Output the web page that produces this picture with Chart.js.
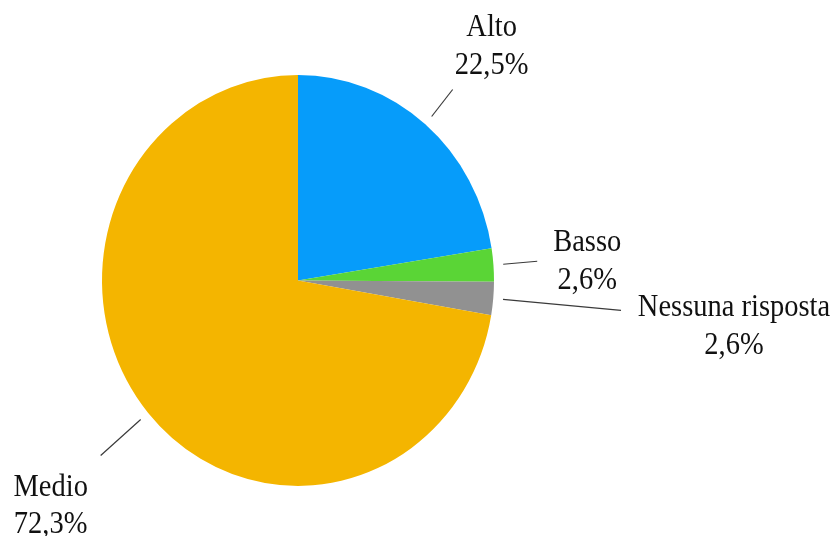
<!DOCTYPE html>
<html>
<head>
<meta charset="utf-8">
<script src="https://cdn.jsdelivr.net/npm/chart.js@4/dist/chart.umd.min.js"></script>
<style>
  html, body { margin: 0; padding: 0; background: #ffffff; }
  #wrap { width: 840px; height: 536px; position: relative; }
</style>
</head>
<body>
<div id="wrap"><canvas id="c" width="840" height="536"></canvas></div>
<script>
// Risposte per categoria (percentuali)
const categories = ['Alto', 'Basso', 'Nessuna risposta', 'Medio'];
const shares = [22.5, 2.6, 2.6, 72.3];
const valueLabels = ['22,5%', '2,6%', '2,6%', '72,3%'];
const sliceColors = ['#069cfa', '#5ad536', '#919191', '#f4b500'];

// Vertical stretch applied to the pie (drawn slightly taller than wide)
const STRETCH_Y = 1.048;
// Text glyphs are drawn a little taller than the font's natural proportions
const TEXT_STRETCH_Y = 1.13;

// Callout layout: leader line length/direction and text offsets from line end
const callouts = [
  { r: 1.05, line: [21, -27],  text: [39, -53] },
  { r: 1.05, line: [34, -3],   text: [50, -10] },
  { r: 1.05, line: [118, 11],  text: [113, 6] },
  { r: 1.05, line: [-40, 36],  text: [-50, 40] }
];
const LINE_GAP = 37.5;
const FONT = '28.5px "Liberation Serif", "Times New Roman", serif';

const stretchPlugin = {
  id: 'stretch',
  beforeDatasetsDraw(chart) {
    const arc = chart.getDatasetMeta(0).data[0];
    const ctx = chart.ctx;
    ctx.save();
    ctx.translate(arc.x, arc.y);
    ctx.scale(1, STRETCH_Y);
    ctx.translate(-arc.x, -arc.y);
  },
  afterDatasetsDraw(chart) {
    chart.ctx.restore();
  }
};

function drawText(ctx, text, x, y) {
  ctx.save();
  ctx.translate(x, y);
  ctx.scale(1, TEXT_STRETCH_Y);
  ctx.fillText(text, 0, 0);
  ctx.restore();
}

const calloutPlugin = {
  id: 'callouts',
  afterDraw(chart) {
    const ctx = chart.ctx;
    const meta = chart.getDatasetMeta(0);
    meta.data.forEach((arc, i) => {
      const c = callouts[i];
      const mid = (arc.startAngle + arc.endAngle) / 2;
      const sx = arc.x + arc.outerRadius * c.r * Math.cos(mid);
      const sy = arc.y + arc.outerRadius * c.r * STRETCH_Y * Math.sin(mid);
      const ex = sx + c.line[0];
      const ey = sy + c.line[1];
      ctx.save();
      ctx.strokeStyle = '#3a3a3a';
      ctx.lineWidth = 1.2;
      ctx.beginPath();
      ctx.moveTo(sx, sy);
      ctx.lineTo(ex, ey);
      ctx.stroke();
      ctx.fillStyle = '#111111';
      ctx.font = FONT;
      ctx.textAlign = 'center';
      ctx.textBaseline = 'alphabetic';
      const tx = ex + c.text[0];
      const ty = ey + c.text[1];
      drawText(ctx, categories[i], tx, ty);
      drawText(ctx, valueLabels[i], tx, ty + LINE_GAP);
      ctx.restore();
    });
  }
};

new Chart(document.getElementById('c'), {
  type: 'pie',
  data: {
    labels: categories,
    datasets: [{
      data: shares,
      backgroundColor: sliceColors,
      borderWidth: 0
    }]
  },
  options: {
    responsive: false,
    animation: false,
    events: [],
    layout: { padding: { left: 102, right: 346, top: 84.5, bottom: 59.5 } },
    plugins: {
      legend: { display: false },
      tooltip: { enabled: false },
      title: { display: false }
    }
  },
  plugins: [stretchPlugin, calloutPlugin]
});
</script>
</body>
</html>
